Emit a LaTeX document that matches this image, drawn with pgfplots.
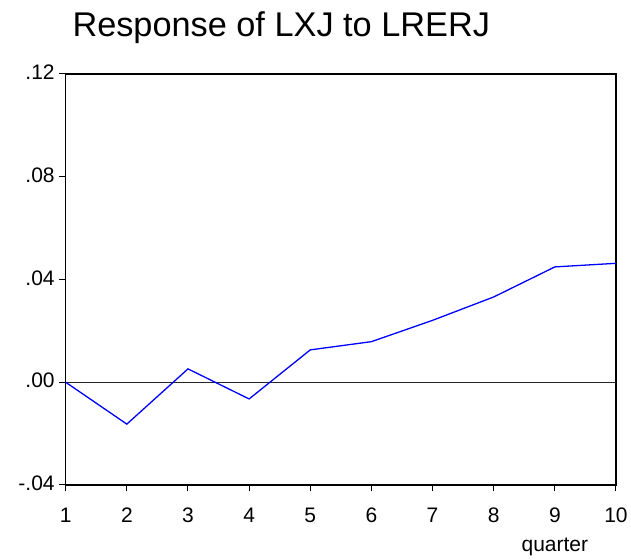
\documentclass[border=0pt]{standalone}
\usepackage{fontspec}
\setmainfont{Liberation Sans}
\usepackage{pgfplots}
\pgfplotsset{compat=1.18}
\begin{document}
\begin{tikzpicture}
\begin{axis}[
  at={(0,0)}, anchor=south west,
  scale only axis,
  width=550.3pt, height=411pt,
  xmin=1, xmax=10, ymin=-0.04, ymax=0.12,
  xtick={1,2,3,4,5,6,7,8,9,10},
  ytick={-0.04,0,0.04,0.08,0.12},
  yticklabels={-.04,.00,.04,.08,.12},
  xtick pos=bottom, ytick pos=left,
  xtick align=outside, ytick align=outside,
  major tick length=6.5pt,
  axis line style={line width=1.6pt},
  tick style={black, line width=1pt},
  tick label style={font=\fontsize{21}{25}\selectfont},
  /pgf/number format/assume math mode=true,
  xticklabel style={anchor=base, yshift=-31pt},
  yticklabel style={anchor=east, xshift=-1pt, yshift=1.5pt},
  clip=false,
]
\addplot[black!85, line width=1pt, forget plot] coordinates {(1,0) (10,0)};
\addplot[color={rgb,255:red,0;green,0;blue,255}, line width=1.3pt] coordinates {
(1,0) (2,-0.0163) (3,0.0052) (4,-0.0065) (5,0.0126) (6,0.0158) (7,0.0241) (8,0.0332) (9,0.0449) (10,0.0463)
};
\node[anchor=base, font=\fontsize{21}{25}\selectfont] at (axis cs:9,-0.04) [yshift=-66.7pt] {quarter};
\end{axis}
\node[anchor=base west, font=\fontsize{34.3}{40}\selectfont, inner sep=0pt] at (6.6pt,448.3pt) {Response of LXJ to LRERJ};
\useasboundingbox (-65.7pt,-75pt) rectangle (565.3pt,485pt);
\end{tikzpicture}
\end{document}
